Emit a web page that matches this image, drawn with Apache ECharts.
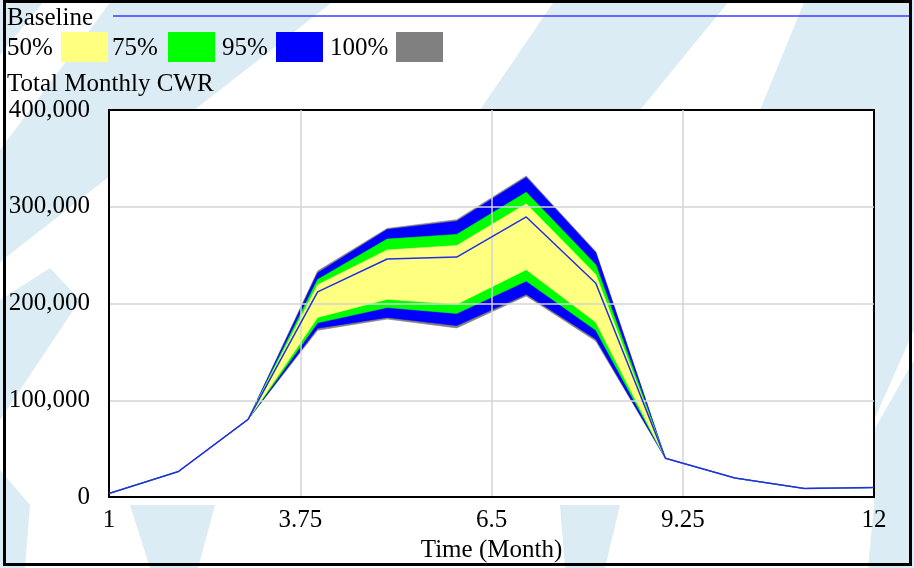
<!DOCTYPE html>
<html>
<head>
<meta charset="utf-8">
<script src="https://cdn.jsdelivr.net/npm/echarts@6/dist/echarts.min.js"></script>
<style>
html,body{margin:0;padding:0;background:#fff;}
#chart{width:914px;height:568px;}
</style>
</head>
<body>
<div id="chart"></div>
<script>
// ---- data ----
const months = [1, 2, 3, 4, 5, 6, 7, 8, 9, 10, 11, 12];
const baseline = [3800, 26500, 80300, 212000, 246000, 248000, 289500, 221000, 40100, 19700, 8900, 9900];
const lower100 = [3800, 26500, 80300, 172400, 184000, 174800, 207900, 161200, 40100, 19700, 8900, 9900];
const lower95  = [3800, 26500, 80300, 174500, 185700, 177200, 209500, 163300, 40100, 19700, 8900, 9900];
const lower75  = [3800, 26500, 80300, 180100, 195900, 189800, 223200, 172400, 40100, 19700, 8900, 9900];
const lower50  = [3800, 26500, 80300, 185700, 204400, 199300, 235000, 180600, 40100, 19700, 8900, 9900];
const upper50  = [3800, 26500, 80300, 219400, 255400, 259900, 303000, 229900, 40100, 19700, 8900, 9900];
const upper75  = [3800, 26500, 80300, 224800, 266600, 271400, 315000, 240100, 40100, 19700, 8900, 9900];
const upper95  = [3800, 26500, 80300, 231600, 276500, 285000, 330300, 252600, 40100, 19700, 8900, 9900];
const upper100 = [3800, 26500, 80300, 233700, 277600, 286700, 331900, 253600, 40100, 19700, 8900, 9900];

const xTickLabels = ['1', '3.75', '6.5', '9.25', '12'];
const yTickValues = [0, 100000, 200000, 300000, 400000];
const legendLabels = ['50%', '75%', '95%', '100%'];
const bandColors = ['#ffff80', '#00ff00', '#0000ff', '#808080'];
const baselineName = 'Baseline';
const yTitle = 'Total Monthly CWR';
const xTitle = 'Time (Month)';

// ---- styling ----
const FONT = 'Liberation Serif';
const FS = 25;
const xStart = months[0];
const xInterval = 2.75;
const baseColor = '#1f2fe6';

const chart = echarts.init(document.getElementById('chart'), null, {renderer: 'canvas'});

function pts(arr) { return months.map((m, i) => [m - xStart, arr[i]]); }

// nested bands drawn outermost first: [upper, lower, color]
const bands = [
  [upper100, lower100, bandColors[3]],
  [upper95,  lower95,  bandColors[2]],
  [upper75,  lower75,  bandColors[1]],
  [upper50,  lower50,  bandColors[0]]
];

const bandSeries = {
  type: 'custom',
  coordinateSystem: 'cartesian2d',
  silent: true,
  z: 1,
  animation: false,
  encode: {x: 0, y: 1},
  data: bands.map((b, i) => [0, 0, i]),
  renderItem: function (params, api) {
    const idx = params.dataIndex;
    const up = bands[idx][0], lo = bands[idx][1];
    const poly = [];
    months.forEach((m, i) => poly.push(api.coord([m - xStart, up[i]])));
    for (let i = months.length - 1; i >= 0; i--) poly.push(api.coord([months[i] - xStart, lo[i]]));
    return {
      type: 'polygon',
      shape: {points: poly},
      style: {fill: bands[idx][2], stroke: bands[idx][2], lineWidth: 0.6}
    };
  }
};

const series = [bandSeries, {
  type: 'line',
  name: baselineName,
  data: pts(baseline),
  showSymbol: false,
  z: 6,
  lineStyle: {color: baseColor, width: 1.5},
  animation: false
}];

// ---- legend / titles / frame via graphic ----
const graphics = [];
const wm = '#dbecf4';
const wmShapes = [
  [[112,0],[335,0],[60,215],[0,262],[0,150]],
  [[0,0],[45,0],[0,55]],
  [[555,0],[730,0],[640,110],[480,110]],
  [[805,0],[914,0],[914,330],[874,420],[874,110],[760,110]],
  [[874,430],[914,360],[914,568],[868,568],[874,505]],
  [[130,505],[215,505],[198,568],[150,568]],
  [[560,505],[620,505],[605,568],[565,568]],
  [[0,300],[50,268],[80,300],[0,420]],
  [[0,470],[30,505],[25,568],[0,568]]
];
wmShapes.forEach(p => graphics.push({type: 'polygon', z: -10, silent: true, shape: {points: p}, style: {fill: wm}}));

graphics.push({type: 'text', x: 7, y: 18, style: {text: baselineName, font: FS + 'px "' + FONT + '"', fill: '#000', verticalAlign: 'middle'}});
graphics.push({type: 'line', shape: {x1: 113, y1: 16, x2: 912, y2: 16}, style: {stroke: '#3c3cff', lineWidth: 1.5}});

const legendPos = [
  {tx: 7,   bx: 61},
  {tx: 112, bx: 168},
  {tx: 222, bx: 276},
  {tx: 330, bx: 396}
];
legendLabels.forEach((lab, i) => {
  graphics.push({type: 'text', x: legendPos[i].tx, y: 48, style: {text: lab, font: FS + 'px "' + FONT + '"', fill: '#000', verticalAlign: 'middle'}});
  graphics.push({type: 'rect', shape: {x: legendPos[i].bx, y: 32, width: 47, height: 30}, style: {fill: bandColors[i]}});
});
graphics.push({type: 'text', x: 7, y: 84, style: {text: yTitle, font: FS + 'px "' + FONT + '"', fill: '#000', verticalAlign: 'middle'}});
graphics.push({type: 'rect', z: 100, silent: true, shape: {x: 4.5, y: 1.5, width: 906, height: 563}, style: {fill: 'none', stroke: '#000', lineWidth: 3}});

const option = {
  backgroundColor: '#ffffff',
  animation: false,
  grid: {left: 109, right: 40, top: 110, bottom: 61, show: true, backgroundColor: '#ffffff', borderColor: '#000', borderWidth: 2, containLabel: false},
  xAxis: {
    type: 'value',
    min: months[0] - xStart,
    max: months[months.length - 1] - xStart,
    interval: xInterval,
    z: 3,
    axisLine: {show: true, lineStyle: {color: '#000', width: 2}},
    axisTick: {show: false},
    splitLine: {show: true, showMinLine: false, showMaxLine: false, lineStyle: {color: '#d4d4d4', width: 1.5}},
    axisLabel: {
      color: '#000', fontFamily: FONT, fontSize: FS, margin: 11,
      formatter: v => xTickLabels[Math.round(v / xInterval)]
    },
    name: xTitle,
    nameLocation: 'middle',
    nameGap: 34,
    nameTextStyle: {color: '#000', fontFamily: FONT, fontSize: FS}
  },
  yAxis: {
    type: 'value',
    min: yTickValues[0],
    max: yTickValues[yTickValues.length - 1],
    interval: yTickValues[1] - yTickValues[0],
    z: 3,
    axisLine: {show: true, lineStyle: {color: '#000', width: 2}},
    axisTick: {show: false},
    splitLine: {show: true, showMinLine: false, showMaxLine: false, lineStyle: {color: '#d4d4d4', width: 1.5}},
    axisLabel: {
      color: '#000', fontFamily: FONT, fontSize: FS, margin: 19,
      formatter: v => v.toLocaleString('en-US')
    }
  },
  graphic: graphics,
  series: series
};
chart.setOption(option);
</script>
</body>
</html>
